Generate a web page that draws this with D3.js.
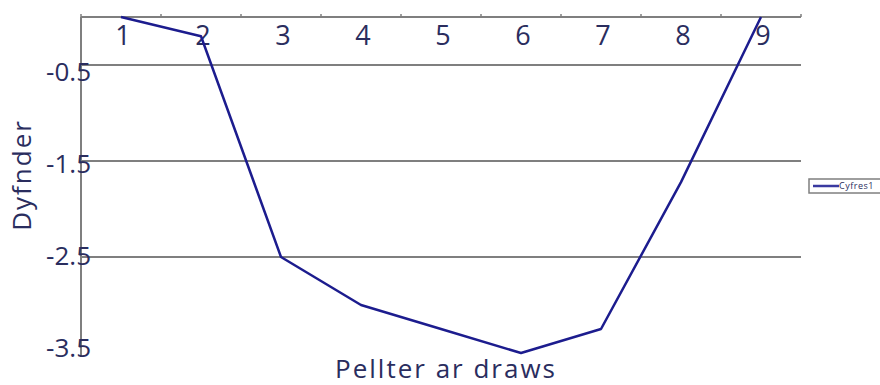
<!DOCTYPE html>
<html>
<head>
<meta charset="utf-8">
<script src="https://cdn.jsdelivr.net/npm/d3@7"></script>
<style>
	body { margin: 0; background: #fff; }
	text { font-family: "Open Sans", "Noto Sans", sans-serif; fill: #2a2d5e; }
</style>
</head>
<body>
<svg width="880" height="385"></svg>
<script>
var categories = ["1", "2", "3", "4", "5", "6", "7", "8", "9"];
var depths = [0, -0.2, -2.5, -3.0, -3.25, -3.5, -3.25, -1.72, 0];
var yTicks = [-0.5, -1.5, -2.5, -3.5];
var seriesName = "Cyfres1";

var svg = d3.select("svg"),
	plotLeft = 81, plotRight = 801, plotTop = 17, plotBottom = 353;

var x = d3.scaleBand()
	.domain(categories)
	.range([plotLeft, plotRight]);

var y = d3.scaleLinear()
	.domain([0, -3.5])
	.range([plotTop, plotBottom]);

// labels in the original sit a bit off their gridlines
var yLabel = d3.scaleLinear()
	.domain([-0.5, -3.5])
	.range([72, 348]);

// gridlines (none at the bottom)
svg.append("g")
	.selectAll("line")
	.data(yTicks.slice(0, 3))
	.enter().append("line")
	.attr("x1", plotLeft).attr("x2", plotRight)
	.attr("y1", function(d) { return y(d); })
	.attr("y2", function(d) { return y(d); })
	.attr("stroke", "#7f7f7f")
	.attr("stroke-width", 2);

// top category axis
var xAxis = svg.append("g")
	.attr("transform", "translate(0," + plotTop + ")");
xAxis.append("line")
	.attr("x1", plotLeft).attr("x2", plotRight)
	.attr("stroke", "#7f7f7f").attr("stroke-width", 2);
xAxis.selectAll(".bound")
	.data(categories.concat(["end"]))
	.enter().append("line")
	.attr("class", "bound")
	.attr("x1", function(d, i) { return plotLeft + i * x.step(); })
	.attr("x2", function(d, i) { return plotLeft + i * x.step(); })
	.attr("y1", 0).attr("y2", -3)
	.attr("stroke", "#7f7f7f").attr("stroke-width", 1.5);
xAxis.selectAll(".lbl")
	.data(categories)
	.enter().append("text")
	.attr("class", "lbl")
	.attr("x", function(d) { return x(d) + x.bandwidth() / 2 + 2; })
	.attr("y", 28)
	.attr("text-anchor", "middle")
	.style("font-size", "27px")
	.text(function(d) { return d; });

// left axis line
svg.append("line")
	.attr("x1", plotLeft).attr("x2", plotLeft)
	.attr("y1", plotTop).attr("y2", plotBottom + 4)
	.attr("stroke", "#7f7f7f").attr("stroke-width", 2);

svg.append("g")
	.selectAll("text")
	.data(yTicks)
	.enter().append("text")
	.attr("x", 91)
	.attr("y", function(d) { return yLabel(d); })
	.attr("dy", "0.35em")
	.attr("text-anchor", "end")
	.style("font-size", "26px")
	.text(function(d) { return d; });

// series line
var line = d3.line()
	.x(function(d, i) { return x(categories[i]) + x.bandwidth() / 2; })
	.y(function(d) { return y(d); });

svg.append("path")
	.datum(depths)
	.attr("d", line)
	.attr("fill", "none")
	.attr("stroke", "#1c1c8e")
	.attr("stroke-width", 2.5)
	.attr("stroke-linejoin", "round");

// axis titles
svg.append("text")
	.attr("x", 446)
	.attr("y", 378)
	.attr("text-anchor", "middle")
	.style("font-size", "26px")
	.style("letter-spacing", "2px")
	.text("Pellter ar draws");

svg.append("text")
	.attr("transform", "translate(31,175) rotate(-90)")
	.attr("text-anchor", "middle")
	.style("font-size", "26px")
	.style("letter-spacing", "2px")
	.text("Dyfnder");

// legend
var legend = svg.append("g").attr("transform", "translate(809,179)");
legend.append("rect")
	.attr("width", 80).attr("height", 14)
	.attr("fill", "#fff")
	.attr("stroke", "#7f7f7f").attr("stroke-width", 1.5);
legend.append("line")
	.attr("x1", 4).attr("x2", 30)
	.attr("y1", 7).attr("y2", 7)
	.attr("stroke", "#3a3aa0").attr("stroke-width", 2.5);
legend.append("text")
	.attr("x", 30).attr("y", 7)
	.attr("dy", "0.35em")
	.style("font-size", "9px")
	.style("letter-spacing", "0.5px")
	.text(seriesName);
</script>
</body>
</html>
